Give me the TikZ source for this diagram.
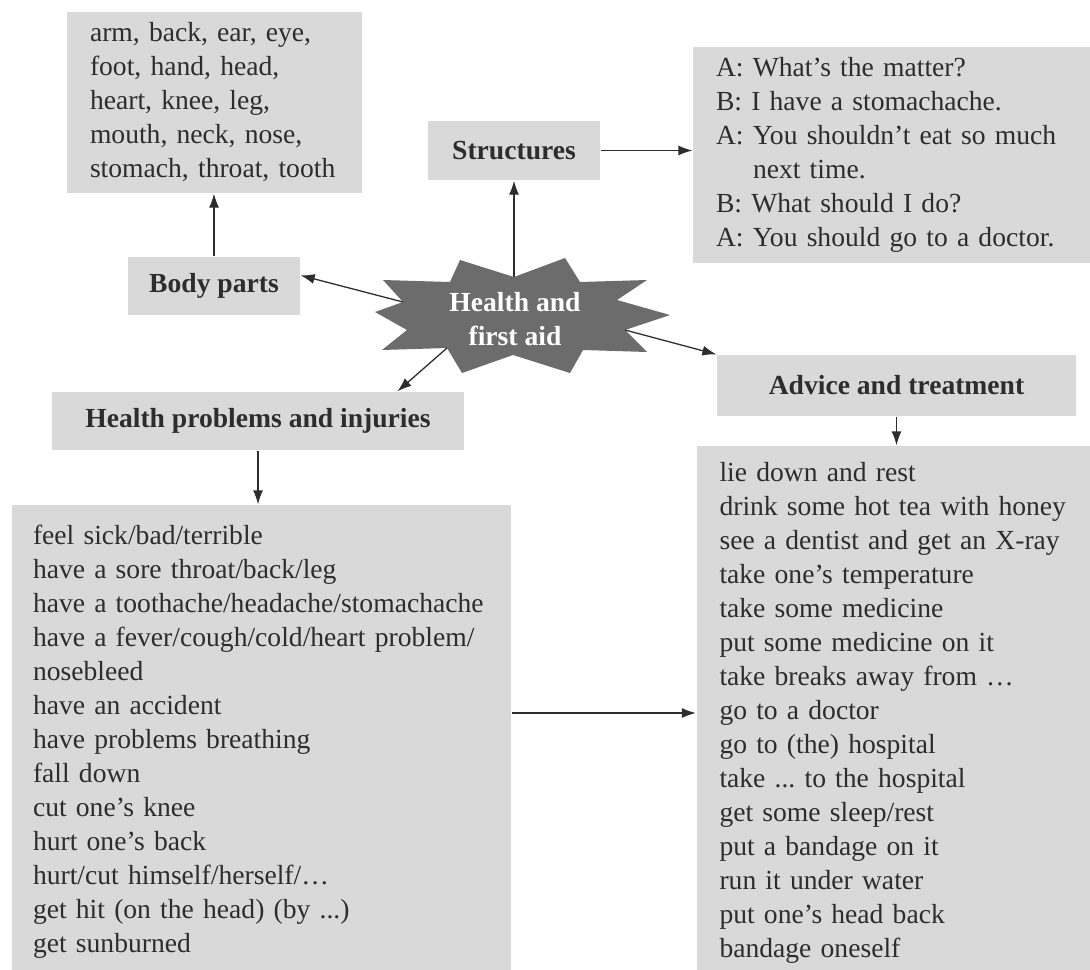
\documentclass[tikz,border=0pt]{standalone}
\usepackage{fontspec}
\setmainfont{Liberation Serif}
\usetikzlibrary{arrows.meta}
\definecolor{boxgray}{RGB}{217,217,217}
\definecolor{stargray}{RGB}{108,108,108}
\definecolor{ink}{RGB}{45,45,45}

\tikzset{
  every node/.style={text=ink, font=\fontsize{13.8}{17}\selectfont},
  topic/.style={fill=boxgray, font=\fontsize{13.8}{17}\selectfont\bfseries, inner sep=0pt},
  listbox/.style={fill=boxgray, align=left, inner xsep=11.5pt, inner ysep=0pt},
}

\begin{document}
\begin{tikzpicture}[x=0.5pt, y=-0.5pt, >={Latex[length=7pt,width=5pt]}, line width=0.65pt]
    \useasboundingbox (0,0) rectangle (1090,969);
    \clip (0,0) rectangle (1090,969);

    %Star in the middle
    \fill[stargray] (460,260) -- (514,277) coordinate (hubN) -- (565,258) -- (580,282) -- (647,280) -- (617,300)
        -- (670,315) -- (625,330) coordinate (hubE) -- (647,352) -- (583,350) -- (570,373) -- (513,355)
        -- (462,373) -- (447,348) coordinate (hubS) -- (382,350) -- (407,330) -- (375,312)
        -- (403,302) coordinate (hubW) -- (383,280) -- (450,282) -- cycle;
    \node[font=\fontsize{13.8}{17}\selectfont\bfseries, text=white, align=center] (hub) at (515,319) {Health and\\first aid};

    %Body parts
    \node[listbox, text width=124.5pt, minimum height=90.5pt] (words) at (214.5,102.5)
        {arm, back, ear, eye,\\foot, hand, head,\\heart, knee, leg,\\mouth, neck, nose,\\stomach, throat, tooth};
    \node[topic, minimum width=86pt, minimum height=29pt] (body) at (214,286) {Body parts};

    %Structures
    \node[topic, minimum width=86pt, minimum height=29.5pt] (struct) at (514,150.5) {Structures};
    \node[listbox, text width=175.5pt, minimum height=108pt] (dialog) at (891.5,155)
        {A: What's the matter?\\B: I have a stomachache.\\A: You shouldn't eat so much\\\hspace*{18.5pt}next time.\\B: What should I do?\\A: You should go to a doctor.};

    %Health problems
    \node[topic, minimum width=206pt, minimum height=29pt] (hp) at (258,421) {Health problems and injuries};
    \node[listbox, inner xsep=10.5pt, text width=228.5pt, minimum height=237pt] (hplist) at (261.5,742)
        {feel sick/bad/terrible\\have a sore throat/back/leg\\have a toothache/headache/stomachache\\
         have a fever/cough/cold/heart problem/\\nosebleed\\have an accident\\have problems breathing\\
         fall down\\cut one's knee\\hurt one's back\\hurt/cut himself/herself/\ldots\\
         get hit (on the head) (by ...)\\get sunburned};

    %Advice
    \node[topic, minimum width=179.5pt, minimum height=30.5pt] (adv) at (896.5,385.5) {Advice and treatment};
    \node[listbox, text width=182pt, minimum height=267pt] (advlist) at (901.5,713)
        {lie down and rest\\drink some hot tea with honey\\see a dentist and get an X-ray\\
         take one's temperature\\take some medicine\\put some medicine on it\\take breaks away from \ldots\\
         go to a doctor\\go to (the) hospital\\take ...\ to the hospital\\get some sleep/rest\\
         put a bandage on it\\run it under water\\put one's head back\\bandage oneself};

    % Arrows
    \draw[->, ink] (hubW) -- (body.7);
    \draw[->, ink] (body.north) -- (body.north |- words.south);
    \draw[->, ink] (hubN) -- (struct.south);
    \draw[->, ink] (struct.east) -- (struct.east -| dialog.west);
    \draw[->, ink] (hubS) -- (hp.12);
    \draw[->, ink] (hp.south) -- (hp.south |- hplist.north);
    \draw[->, ink] (hubE) -- (adv.north west);
    \draw[->, ink] (adv.south) -- (adv.south |- advlist.north);
    \draw[->, ink] (advlist.west -| hplist.east) -- (advlist.west);

\end{tikzpicture}
\end{document}
